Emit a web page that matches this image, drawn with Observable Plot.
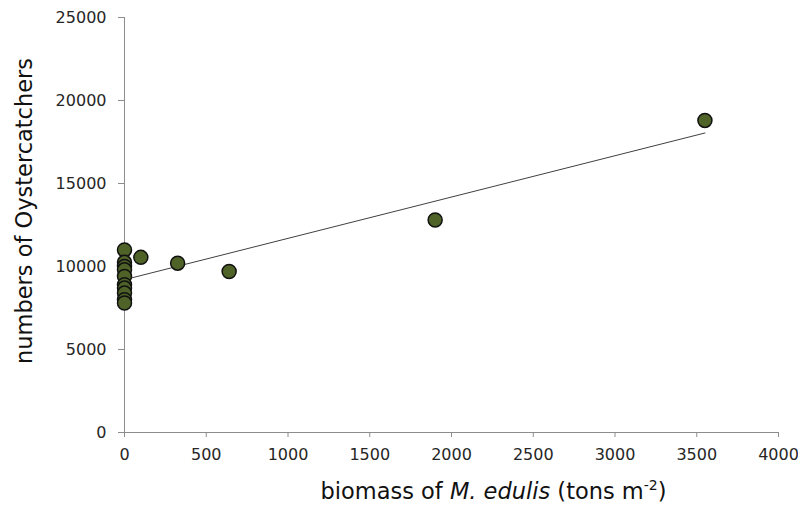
<!DOCTYPE html>
<html>
<head>
<meta charset="utf-8">
<script src="https://cdn.jsdelivr.net/npm/d3@7"></script>
<script src="https://cdn.jsdelivr.net/npm/@observablehq/plot@0.6"></script>
<style>
  html, body { margin: 0; padding: 0; background: #fff; }
</style>
</head>
<body>
<div id="chart"></div>
<script>
// biomass of M. edulis (tons m-2)
const biomass = [0, 0, 0, 0, 0, 0, 0, 0, 0, 0, 100, 325, 640, 1900, 3550];
// numbers of Oystercatchers
const oystercatchers = [11000, 10250, 10000, 9800, 9400, 8900, 8700, 8400, 8000, 7800, 10550, 10200, 9700, 12800, 18800];
const xTicks = [0, 500, 1000, 1500, 2000, 2500, 3000, 3500, 4000];
const yTicks = [0, 5000, 10000, 15000, 20000, 25000];
const xLabel = "biomass of M. edulis (tons m-2)";
const yLabel = "numbers of Oystercatchers";

const data = biomass.map((b, i) => ({biomass: b, birds: oystercatchers[i]}));

const chart = Plot.plot({
  width: 798,
  height: 509,
  marginLeft: 124,
  marginRight: 20,
  marginTop: 17,
  marginBottom: 77,
  style: {fontFamily: "DejaVu Sans, Verdana, sans-serif", background: "#fff"},
  x: {domain: [0, 4000]},
  y: {domain: [0, 25000]},
  marks: [
    Plot.ruleY([0], {stroke: "#8c8c8c"}),
    Plot.ruleX([0], {stroke: "#8c8c8c"}),
    Plot.axisX({ticks: xTicks, tickSize: 5, tickPadding: 11, stroke: "#8c8c8c", fill: "#262626", fontSize: 16, label: null, tickFormat: d3.format("d")}),
    Plot.axisY({ticks: yTicks, tickSize: 6, tickPadding: 12, stroke: "#8c8c8c", fill: "#262626", fontSize: 16, label: null, tickFormat: d3.format("d")}),
    Plot.linearRegressionY(data, {x: "biomass", y: "birds", stroke: "#404040", strokeWidth: 1, ci: 0}),
    Plot.dot(data, {x: "biomass", y: "birds", r: 7, fill: "#4f6228", stroke: "#111", strokeWidth: 1.5}),
    Plot.text([yLabel], {frameAnchor: "left", textAnchor: "middle", dx: -100, dy: -14, rotate: -90, fontSize: 22.5, fill: "#111"}),
    Plot.text([xLabel], {frameAnchor: "bottom", dx: 42, dy: 66, fontSize: 22.5, fill: "#111"})
  ]
});

document.getElementById("chart").appendChild(chart);

d3.select(chart).selectAll("text").filter(function() { return this.textContent === xLabel; })
  .each(function() {
    const t = d3.select(this);
    t.text(null);
    t.append("tspan").text("biomass of ");
    t.append("tspan").attr("font-style", "italic").text("M. edulis");
    t.append("tspan").text(" (tons m");
    t.append("tspan").attr("dy", "-9").attr("font-size", "14").text("-2");
    t.append("tspan").attr("dy", "9").text(")");
  });
</script>
</body>
</html>
